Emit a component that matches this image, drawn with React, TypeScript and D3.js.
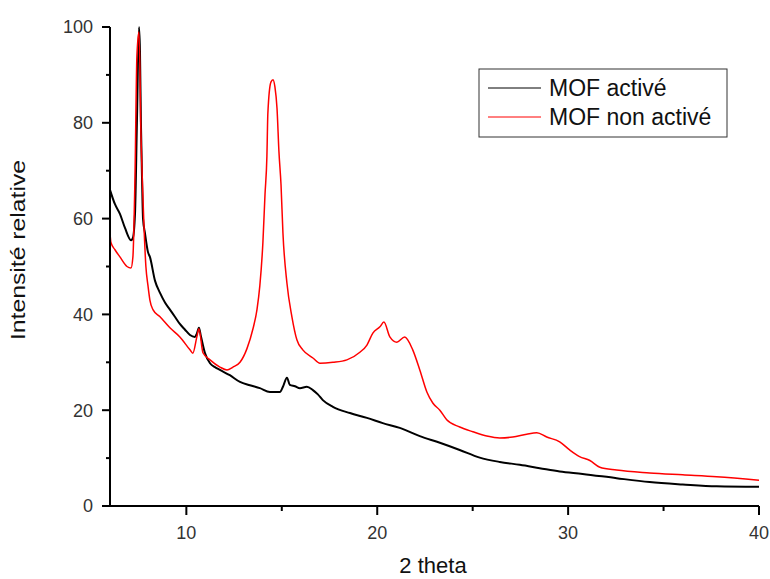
import React from "react";
import * as d3 from "d3";

// 2 theta positions and relative intensities
const activeTheta = [6.0, 6.26, 6.52, 6.79, 7.1, 7.2, 7.31, 7.41, 7.52, 7.57, 7.62, 7.68, 7.73, 7.83, 7.99, 8.09, 8.36, 8.62, 8.88, 9.14, 9.4, 9.66, 9.93, 10.19, 10.45, 10.55, 10.66, 10.76, 10.97, 11.24, 11.5, 11.76, 12.28, 12.81, 13.33, 13.85, 14.38, 14.9, 15.06, 15.27, 15.42, 15.69, 15.95, 16.31, 16.63, 16.89, 17.15, 17.68, 18.57, 19.46, 20.29, 21.18, 22.23, 23.28, 24.32, 25.37, 26.42, 27.47, 28.51, 29.56, 30.76, 32.54, 34.27, 36.0, 37.78, 40.0];
const activeValues = [66, 63, 61, 58, 55.5, 56, 61, 80, 100, 95, 80, 68, 60, 57, 53, 52, 47, 44.5, 42.5, 41, 39.5, 38, 36.8, 35.7, 35.3, 36, 37.2, 35.5, 32, 29.8, 29, 28.4, 27.3, 25.9, 25.2, 24.6, 23.8, 23.8, 24.9, 26.8, 25.3, 25, 24.6, 24.9, 24.2, 23.3, 22.1, 20.7, 19.4, 18.4, 17.3, 16.3, 14.6, 13.2, 11.7, 10.1, 9.2, 8.6, 7.9, 7.2, 6.7, 5.8, 5.0, 4.5, 4.1, 4.0];

const nonActiveTheta = [6.0, 6.05, 6.26, 6.52, 6.89, 7.1, 7.2, 7.31, 7.41, 7.52, 7.62, 7.73, 7.88, 7.99, 8.09, 8.25, 8.62, 9.14, 9.66, 10.19, 10.34, 10.55, 10.66, 10.87, 11.24, 11.76, 12.13, 12.44, 12.81, 13.17, 13.49, 13.7, 13.85, 14.01, 14.12, 14.22, 14.27, 14.43, 14.54, 14.64, 14.75, 14.85, 14.96, 15.06, 15.27, 15.53, 15.79, 16.1, 16.63, 17.0, 17.68, 18.41, 19.09, 19.46, 19.77, 20.14, 20.35, 20.66, 21.03, 21.44, 21.86, 22.23, 22.6, 22.91, 23.28, 23.64, 24.32, 25.01, 25.74, 26.42, 27.1, 27.83, 28.36, 28.88, 29.56, 30.08, 30.6, 31.14, 31.66, 32.54, 34.27, 36.0, 37.78, 40.0];
const nonActiveValues = [57, 55, 53.5, 52, 50, 49.7, 52, 69, 94, 99, 78, 64, 50, 46, 43, 41, 39.5, 37.2, 35.3, 32.6, 31.9, 35.3, 37, 32, 30.5, 29, 28.4, 29, 30, 32.8, 37, 41, 46, 55, 65, 73, 82, 88.5, 89, 87.5, 83, 74, 67, 57, 46.5, 39.5, 34.7, 32.6, 30.9, 29.8, 30, 30.5, 32.1, 33.6, 36.1, 37.4, 38.4, 35.3, 34.2, 35.3, 32.6, 28.4, 23.8, 21.5, 20, 18, 16.5, 15.5, 14.6, 14.2, 14.4, 15, 15.3, 14.4, 13.4, 11.7, 10.3, 9.5, 8.1, 7.5, 6.9, 6.5, 6.1, 5.4];

const seriesNames = ["MOF activé", "MOF non activé"];
const seriesColors = ["#000000", "#ff0000"];
const xMajorTicks = [10, 20, 30, 40];
const xMinorTicks = [15, 25, 35];
const yMajorTicks = [0, 20, 40, 60, 80, 100];
const yMinorTicks = [10, 30, 50, 70, 90];

const W = 770;
const H = 579;
const left = 110;
const right = 759;
const top = 27;
const bottom = 506;

export default function App() {
  const x = d3.scaleLinear().domain([6, 40]).range([left, right]);
  const y = d3.scaleLinear().domain([0, 100]).range([bottom, top]);

  const line = d3
    .line<[number, number]>()
    .x((d) => x(d[0]))
    .y((d) => y(d[1]))
    .curve(d3.curveMonotoneX);

  const activePts = activeTheta.map((t, i) => [t, activeValues[i]] as [number, number]);
  const nonActivePts = nonActiveTheta.map((t, i) => [t, nonActiveValues[i]] as [number, number]);

  const font = "Arial, 'Liberation Sans', sans-serif";
  const tickColor = "#333333";

  return (
    <svg
      width={W}
      height={H}
      style={{ position: "absolute", left: 0, top: 0, background: "#fff" }}
      fontFamily={font}
    >
      <defs>
        <clipPath id="plotClip">
          <rect x={left} y={top - 2} width={right - left + 2} height={bottom - top + 2} />
        </clipPath>
      </defs>

      <g clipPath="url(#plotClip)" fill="none">
        <path d={line(activePts) || ""} stroke={seriesColors[0]} strokeWidth={2} strokeLinejoin="round" />
        <path d={line(nonActivePts) || ""} stroke={seriesColors[1]} strokeWidth={1.5} strokeLinejoin="round" />
      </g>

      {/* axes */}
      <line x1={left} x2={left} y1={top} y2={bottom + 1} stroke="#000" strokeWidth={2} />
      <line x1={left - 1} x2={right} y1={bottom} y2={bottom} stroke="#000" strokeWidth={2} />

      {yMajorTicks.map((t) => (
        <g key={"ym" + t}>
          <line x1={left - 8} x2={left} y1={y(t)} y2={y(t)} stroke="#000" strokeWidth={2} />
          <text x={93} y={y(t)} dy="0.36em" textAnchor="end" fontSize={18} fill={tickColor}>
            {t}
          </text>
        </g>
      ))}
      {yMinorTicks.map((t) => (
        <line key={"yn" + t} x1={left - 4} x2={left} y1={y(t)} y2={y(t)} stroke="#000" strokeWidth={2} />
      ))}
      {xMajorTicks.map((t) => (
        <g key={"xm" + t}>
          <line x1={x(t)} x2={x(t)} y1={bottom} y2={bottom + 9} stroke="#000" strokeWidth={2} />
          <text x={x(t)} y={539} textAnchor="middle" fontSize={18} fill={tickColor}>
            {t}
          </text>
        </g>
      ))}
      {xMinorTicks.map((t) => (
        <line key={"xn" + t} x1={x(t)} x2={x(t)} y1={bottom} y2={bottom + 5} stroke="#000" strokeWidth={2} />
      ))}

      {/* axis titles */}
      <text x={433} y={573} textAnchor="middle" fontSize={22} fill="#111">
        2 theta
      </text>
      <text
        transform="translate(25,250) rotate(-90)"
        textAnchor="middle"
        fontSize={20}
        textLength={180}
        lengthAdjust="spacingAndGlyphs"
        fill="#111"
      >
        Intensité relative
      </text>

      {/* legend */}
      <rect x={479} y={69} width={248} height={68} fill="#fff" stroke="#333" strokeWidth={1} />
      {seriesNames.map((name, i) => (
        <g key={name}>
          <line x1={488} x2={541} y1={88 + i * 29} y2={88 + i * 29} stroke={seriesColors[i]} strokeWidth={1} />
          <text x={549} y={88 + i * 29} dy="0.36em" fontSize={23} fill="#111">
            {name}
          </text>
        </g>
      ))}
    </svg>
  );
}
